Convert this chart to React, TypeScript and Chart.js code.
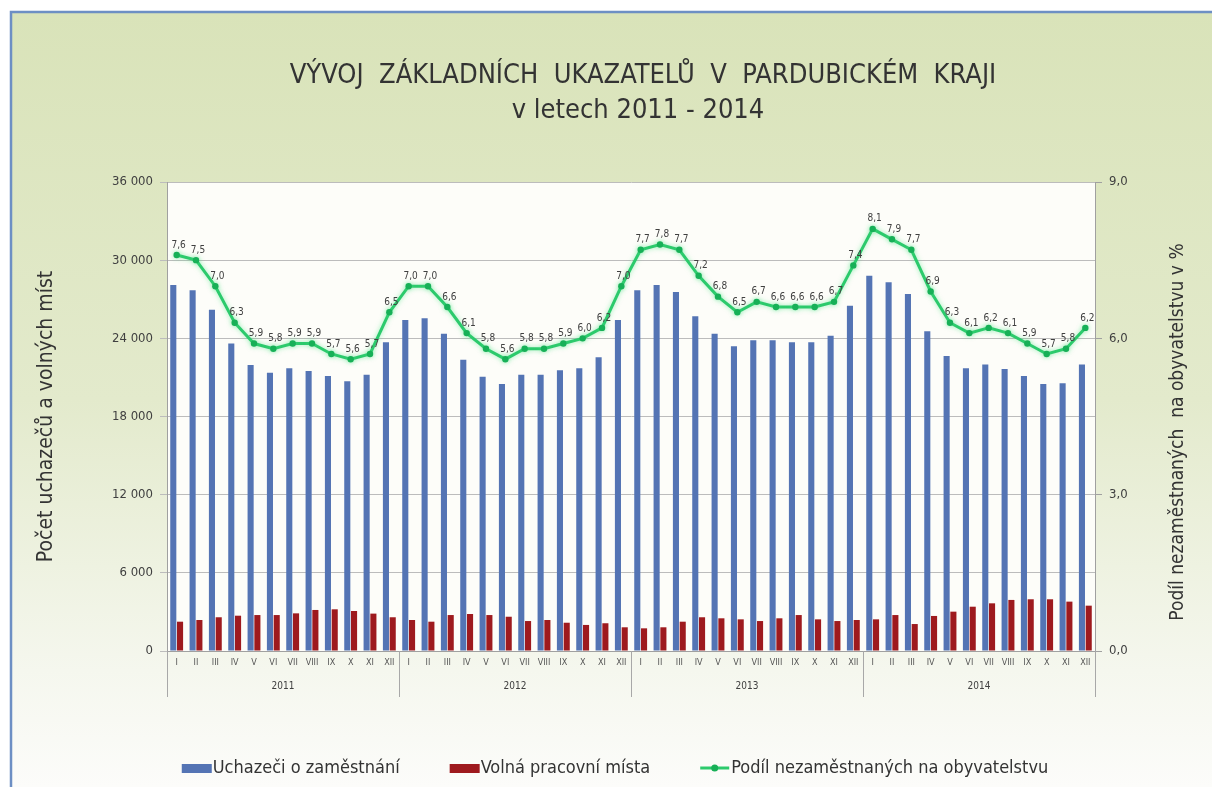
import React, { useEffect, useRef } from 'react';
import { Chart, registerables } from 'chart.js';

Chart.register(...registerables);

const MONTHS = ['I', 'II', 'III', 'IV', 'V', 'VI', 'VII', 'VIII', 'IX', 'X', 'XI', 'XII'];
const YEARS = ['2011', '2012', '2013', '2014'];

const UCHAZECI = [
  28100, 27700, 26200, 23600, 21950, 21350, 21700, 21500, 21100, 20700, 21200, 23700,
  25400, 25550, 24350, 22350, 21050, 20500, 21200, 21200, 21550, 21700, 22550, 25400,
  27700, 28100, 27550, 25700, 24350, 23400, 23850, 23850, 23700, 23700, 24200, 26500,
  28800, 28300, 27400, 24550, 22650, 21700, 22000, 21650, 21100, 20500, 20550, 22000,
];

const VOLNA_MISTA = [
  2250, 2380, 2590, 2710, 2760, 2760, 2890, 3150, 3200, 3070, 2870, 2590,
  2380, 2250, 2760, 2840, 2760, 2630, 2300, 2380, 2170, 2000, 2130, 1820,
  1740, 1820, 2250, 2590, 2510, 2430, 2300, 2510, 2760, 2430, 2300, 2380,
  2430, 2760, 2070, 2690, 3020, 3400, 3660, 3920, 3970, 3970, 3790, 3480,
];

const PODIL = [
  7.6, 7.5, 7.0, 6.3, 5.9, 5.8, 5.9, 5.9, 5.7, 5.6, 5.7, 6.5,
  7.0, 7.0, 6.6, 6.1, 5.8, 5.6, 5.8, 5.8, 5.9, 6.0, 6.2, 7.0,
  7.7, 7.8, 7.7, 7.2, 6.8, 6.5, 6.7, 6.6, 6.6, 6.6, 6.7, 7.4,
  8.1, 7.9, 7.7, 6.9, 6.3, 6.1, 6.2, 6.1, 5.9, 5.7, 5.8, 6.2,
];

const LEFT_TICKS = [0, 6000, 12000, 18000, 24000, 30000, 36000];
const RIGHT_TICKS = [0, 3, 6, 9];

const TITLE_1 = 'VÝVOJ  ZÁKLADNÍCH  UKAZATELŮ  V  PARDUBICKÉM  KRAJI';
const TITLE_2 = 'v letech 2011 - 2014';
const LEFT_TITLE = 'Počet uchazečů a volných míst';
const RIGHT_TITLE = 'Podíl nezaměstnaných  na obyvatelstvu v %';
const SERIES_NAMES = ['Uchazeči o zaměstnání', 'Volná pracovní místa', 'Podíl nezaměstnaných na obyvatelstvu'];

const FONT = "'Liberation Sans Narrow', 'DejaVu Sans Condensed', 'Noto Sans', sans-serif";
const BLUE = '#5474b4';
const RED = '#9e1a1e';
const GREEN = '#2cca6c';
const GREEN_DARK = '#17b057';
const TEXT = '#404040';

const fmtThousands = (v: number) =>
  String(v).replace(/\B(?=(\d{3})+(?!\d))/g, ' ');
const fmtDec = (v: number) => v.toFixed(1).replace('.', ',');

const decorPlugin = {
  id: 'decor',
  beforeDraw(chart: any) {
    const { ctx, width, height, chartArea } = chart;
    ctx.save();
    ctx.fillStyle = '#ffffff';
    ctx.fillRect(0, 0, width, height);
    const g = ctx.createLinearGradient(0, 12, 0, height);
    g.addColorStop(0, '#d9e3b9');
    g.addColorStop(0.5, '#e3eacc');
    g.addColorStop(0.85, '#f5f7ee');
    g.addColorStop(1, '#fcfcfa');
    ctx.fillStyle = g;
    ctx.fillRect(11, 12, width - 11, height - 12);
    ctx.strokeStyle = '#6d8fc4';
    ctx.lineWidth = 2.5;
    ctx.beginPath();
    ctx.moveTo(11, height);
    ctx.lineTo(11, 12);
    ctx.lineTo(width, 12);
    ctx.stroke();
    ctx.fillStyle = '#fdfdf9';
    ctx.fillRect(chartArea.left, chartArea.top, chartArea.right - chartArea.left, chartArea.bottom - chartArea.top);
    ctx.restore();
  },
  beforeDatasetDraw(chart: any, args: any) {
    if (args.index === 2) {
      chart.ctx.save();
      chart.ctx.shadowColor = 'rgba(70, 225, 130, 0.55)';
      chart.ctx.shadowBlur = 5;
    }
  },
  afterDatasetDraw(chart: any, args: any) {
    if (args.index === 2) chart.ctx.restore();
  },
  afterDatasetsDraw(chart: any) {
    const { ctx } = chart;
    const meta = chart.getDatasetMeta(2);
    ctx.save();
    ctx.font = `10px ${FONT}`;
    ctx.fillStyle = TEXT;
    ctx.textAlign = 'center';
    ctx.textBaseline = 'bottom';
    meta.data.forEach((pt: any, i: number) => {
      ctx.fillText(fmtDec(PODIL[i]), pt.x + 2, pt.y - 5);
    });
    ctx.restore();
  },
  afterDraw(chart: any) {
    const { ctx, chartArea, width } = chart;
    ctx.save();
    ctx.fillStyle = '#333333';
    ctx.textAlign = 'center';
    ctx.textBaseline = 'middle';
    ctx.font = `27px ${FONT}`;
    ctx.fillText(TITLE_1, 643, 76);
    ctx.fillText(TITLE_2, 638, 111);

    ctx.fillStyle = '#333333';
    ctx.save();
    ctx.font = `21px ${FONT}`;
    ctx.translate(47, (chartArea.top + chartArea.bottom) / 2);
    ctx.rotate(-Math.PI / 2);
    ctx.fillText(LEFT_TITLE, 0, 0);
    ctx.restore();
    ctx.save();
    ctx.font = `19px ${FONT}`;
    ctx.translate(1178, 432);
    ctx.rotate(-Math.PI / 2);
    ctx.fillText(RIGHT_TITLE, 0, 0);
    ctx.restore();

    const n = MONTHS.length;
    const step = (chartArea.right - chartArea.left) / (n * YEARS.length);
    ctx.strokeStyle = '#a8a8a8';
    ctx.lineWidth = 1;
    for (let k = 0; k <= YEARS.length; k++) {
      const px = Math.round(chartArea.left + k * n * step) + 0.5;
      ctx.beginPath();
      ctx.moveTo(px, chartArea.bottom);
      ctx.lineTo(px, chartArea.bottom + 46);
      ctx.stroke();
    }
    ctx.font = `10px ${FONT}`;
    ctx.fillStyle = TEXT;
    YEARS.forEach((y, k) => {
      const cx = chartArea.left + (k * n + n / 2) * step;
      ctx.fillText(y, cx, chartArea.bottom + 35);
    });

    ctx.font = `18px ${FONT}`;
    ctx.textAlign = 'left';
    const ly = 768;
    const w0 = ctx.measureText(SERIES_NAMES[0]).width;
    const w1 = ctx.measureText(SERIES_NAMES[1]).width;
    const w2 = ctx.measureText(SERIES_NAMES[2]).width;
    const gap = 50;
    const total = 31 + w0 + gap + 31 + w1 + gap + 31 + w2;
    let lx = (width - total) / 2 + 9;
    ctx.fillStyle = BLUE;
    ctx.fillRect(lx, ly - 4, 30, 9);
    ctx.fillStyle = '#333333';
    ctx.fillText(SERIES_NAMES[0], lx + 31, ly);
    lx += 31 + w0 + gap;
    ctx.fillStyle = RED;
    ctx.fillRect(lx, ly - 4, 30, 9);
    ctx.fillStyle = '#333333';
    ctx.fillText(SERIES_NAMES[1], lx + 31, ly);
    lx += 31 + w1 + gap;
    ctx.strokeStyle = GREEN;
    ctx.lineWidth = 3;
    ctx.beginPath();
    ctx.moveTo(lx, ly);
    ctx.lineTo(lx + 29, ly);
    ctx.stroke();
    ctx.fillStyle = GREEN_DARK;
    ctx.beginPath();
    ctx.arc(lx + 14.5, ly, 3.5, 0, Math.PI * 2);
    ctx.fill();
    ctx.fillStyle = '#333333';
    ctx.fillText(SERIES_NAMES[2], lx + 31, ly);
    ctx.restore();
  },
};

export default function App() {
  const ref = useRef<HTMLCanvasElement | null>(null);

  useEffect(() => {
    if (!ref.current) return;
    const labels = YEARS.flatMap(() => MONTHS);
    const chart = new Chart(ref.current, {
      type: 'bar',
      data: {
        labels,
        datasets: [
          {
            type: 'bar',
            label: SERIES_NAMES[0],
            data: UCHAZECI,
            backgroundColor: BLUE,
            borderWidth: 0,
            yAxisID: 'y',
            categoryPercentage: 0.7,
            barPercentage: 0.9,
            order: 2,
          },
          {
            type: 'bar',
            label: SERIES_NAMES[1],
            data: VOLNA_MISTA,
            backgroundColor: RED,
            borderWidth: 0,
            yAxisID: 'y',
            categoryPercentage: 0.7,
            barPercentage: 0.9,
            order: 2,
          },
          {
            type: 'line',
            label: SERIES_NAMES[2],
            data: PODIL,
            borderColor: GREEN,
            backgroundColor: GREEN_DARK,
            borderWidth: 3,
            pointRadius: 3.2,
            pointBackgroundColor: GREEN_DARK,
            pointBorderColor: GREEN_DARK,
            pointBorderWidth: 0,
            tension: 0,
            yAxisID: 'y2',
            order: 1,
          } as any,
        ],
      },
      options: {
        animation: false,
        responsive: false,
        maintainAspectRatio: false,
        layout: { padding: { left: 100, right: 57, top: 182, bottom: 86 } },
        plugins: {
          legend: { display: false },
          title: { display: false },
          tooltip: { enabled: false },
        },
        scales: {
          x: {
            type: 'category',
            offset: true,
            grid: { display: false, drawTicks: false },
            border: { display: true, color: '#a0a0a0' },
            ticks: {
              autoSkip: false,
              maxRotation: 0,
              minRotation: 0,
              padding: 6,
              color: '#555555',
              font: { size: 9, family: FONT },
            },
            afterFit: (s: any) => { s.height = 50; },
          },
          y: {
            position: 'left',
            min: 0,
            max: 36000,
            afterBuildTicks: (s: any) => { s.ticks = LEFT_TICKS.map((v) => ({ value: v })); },
            grid: { color: '#bcbcbc', tickLength: 7, drawTicks: true },
            border: { display: true, color: '#a0a0a0' },
            ticks: {
              padding: 7,
              color: TEXT,
              font: { size: 13, family: FONT },
              callback: (v: any) => fmtThousands(Number(v)),
            },
            afterFit: (s: any) => { s.width = 67; },
          },
          y2: {
            position: 'right',
            min: 0,
            max: 9,
            afterBuildTicks: (s: any) => { s.ticks = RIGHT_TICKS.map((v) => ({ value: v })); },
            grid: { drawOnChartArea: false, color: '#a0a0a0', tickLength: 7 },
            border: { display: true, color: '#a0a0a0' },
            ticks: {
              padding: 7,
              color: TEXT,
              font: { size: 13, family: FONT },
              callback: (v: any) => fmtDec(Number(v)),
            },
            afterFit: (s: any) => { s.width = 60; },
          },
        },
      },
      plugins: [decorPlugin],
    });
    return () => chart.destroy();
  }, []);

  return (
    <div style={{ position: 'fixed', left: 0, top: 0, width: 1212, height: 787 }}>
      <canvas ref={ref} width={1212} height={787} style={{ width: 1212, height: 787, display: 'block' }} />
    </div>
  );
}
